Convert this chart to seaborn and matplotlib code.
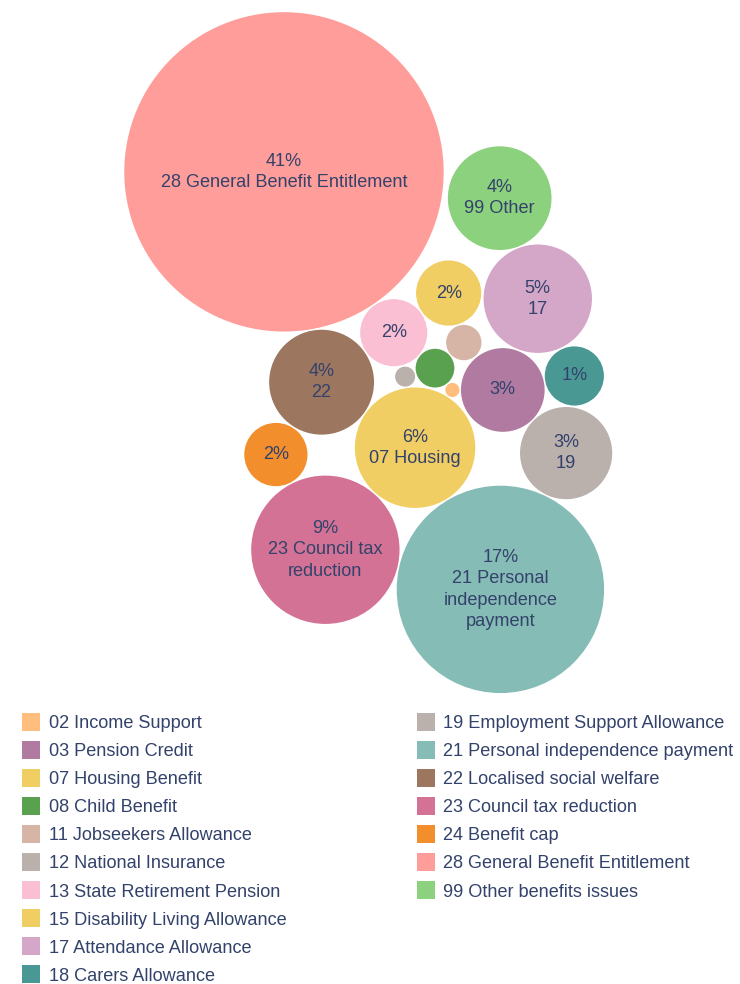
import numpy as np
import pandas as pd
import matplotlib
matplotlib.use("Agg")
import matplotlib.pyplot as plt
import seaborn as sns

# ---- data -------------------------------------------------------------
codes = ["02", "03", "07", "08", "11", "12", "13", "15", "17",
         "18", "19", "21", "22", "23", "24", "28", "99"]
names = ["Income Support", "Pension Credit", "Housing Benefit", "Child Benefit",
         "Jobseekers Allowance", "National Insurance", "State Retirement Pension",
         "Disability Living Allowance", "Attendance Allowance", "Carers Allowance",
         "Employment Support Allowance", "Personal independence payment",
         "Localised social welfare", "Council tax reduction", "Benefit cap",
         "General Benefit Entitlement", "Other benefits issues"]
share_pct = [0.08, 2.8, 5.8, 0.6, 0.5, 0.16, 1.8, 1.7, 4.7,
             1.4, 3.4, 17.2, 4.4, 8.8, 1.6, 40.8, 4.3]
# text shown under the percentage inside a bubble ("" = percentage only, None = no label)
bubble_text = [None, "", "07 Housing", None, None, None, "", "", "17",
               "", "19", "21 Personal\nindependence\npayment", "22",
               "23 Council tax\nreduction", "", "28 General Benefit Entitlement",
               "99 Other"]
colors = ["#FFBE7D", "#B07AA1", "#F1CE63", "#59A14F", "#D7B5A6", "#BAB0AC",
          "#FABFD2", "#F1CE63", "#D4A6C8", "#499894", "#BAB0AC", "#86BCB6",
          "#9D7660", "#D37295", "#F28E2B", "#FF9D9A", "#8CD17D"]

# ---- layout -----------------------------------------------------------
W, H, DPI = 740, 984, 100
SCALE = 25.0          # radius in px per sqrt(percent)
PAD = 1.5             # minimum gap between bubbles, px
# rough seed positions for the packing pass (px, y downwards)
seed_x = [451.5, 502, 415, 434, 461.5, 407, 395, 448, 537.5,
          573, 566, 500, 322, 326, 278, 284, 500]
seed_y = [391, 390, 448, 371, 343, 378, 334, 294, 298,
          376, 453, 589, 382, 549, 455, 172, 199]

TEXT = "#33426B"
FONT = "Liberation Sans"
FS = 13.1

radius = SCALE * np.sqrt(np.asarray(share_pct))
pos = np.column_stack([seed_x, seed_y]).astype(float)

# simple overlap relaxation: push apart any pair closer than r_i + r_j + PAD
area = radius ** 2
for _ in range(200):
    moved = False
    for i in range(len(pos)):
        for j in range(i + 1, len(pos)):
            d = pos[j] - pos[i]
            dist = np.hypot(*d)
            need = radius[i] + radius[j] + PAD
            if dist < need:
                u = d / dist
                overlap = need - dist
                wi = area[j] / (area[i] + area[j])
                wj = 1.0 - wi
                pos[i] -= u * overlap * wi
                pos[j] += u * overlap * wj
                moved = True
    if not moved:
        break

df = pd.DataFrame({"code": codes, "x": pos[:, 0], "y": pos[:, 1],
                   "pct": share_pct})

sns.set_theme(style="white")
plt.rcParams["font.family"] = [FONT, "DejaVu Sans"]

fig = plt.figure(figsize=(W / DPI, H / DPI), dpi=DPI)
ax = fig.add_axes([0, 0, 1, 1])

palette = dict(zip(codes, colors))
# marker 'o' area in pt^2 = (diameter in pt)^2
sizes = {c: (2 * r * 72.0 / DPI) ** 2 for c, r in zip(codes, radius)}
sns.scatterplot(data=df, x="x", y="y", hue="code", palette=palette,
                size="code", sizes=sizes, linewidth=0, legend=False,
                ax=ax, zorder=2)

ax.set_xlim(0, W)
ax.set_ylim(H, 0)
ax.set_aspect("equal")
ax.axis("off")

# bubble labels
for (cx, cy), pct, txt in zip(pos, share_pct, bubble_text):
    if txt is None:
        continue
    label = f"{round(pct):.0f}%" + (f"\n{txt}" if txt else "")
    ax.text(cx, cy, label, ha="center", va="center", color=TEXT,
            fontsize=FS, linespacing=1.34, zorder=3)

# legend: two columns of swatches
ROW = 28.1
columns = [(31, 49, codes[:10], names[:10], colors[:10]),
           (425.5, 443, codes[10:], names[10:], colors[10:])]
for sx, tx, cc, nn, col in columns:
    for k, (c, n, colr) in enumerate(zip(cc, nn, col)):
        yy = 721.5 + k * ROW
        ax.scatter([sx], [yy], marker="s", s=(18 * 72.0 / DPI) ** 2,
                   color=colr, linewidth=0, zorder=2)
        ax.text(tx, yy, f"{c} {n}", ha="left", va="center_baseline",
                color=TEXT, fontsize=FS, zorder=3)

fig.savefig("out.png", dpi=DPI, facecolor="white")
